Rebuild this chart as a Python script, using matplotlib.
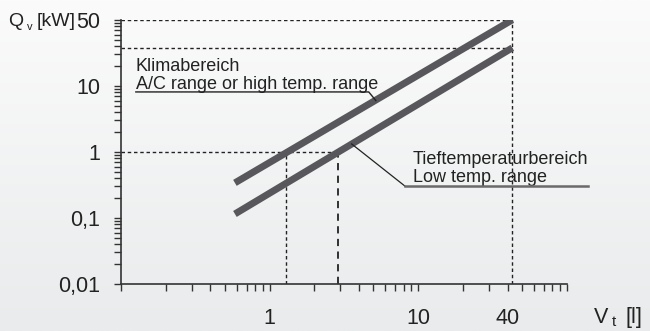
import numpy as np
import matplotlib.pyplot as plt
from matplotlib.ticker import LogLocator, NullFormatter, FixedLocator, FixedFormatter

plt.rcParams['font.family'] = ['Liberation Sans', 'DejaVu Sans']

# values (the top tick is printed "50" but sits at the 100 position)
x_ends = [0.585, 43]
y_high = [0.34, 100]    # A/C range or high temp. range
y_low = [0.115, 37.7]   # low temp. range

y_ticks = [0.01, 0.1, 1, 10, 100]
y_labels = ['0,01', '0,1', '1', '10', '50']
x_ticks = [1, 10, 40]
x_labels = ['1', '10', '40']

x_cross_high = 1.3   # where the upper band hits 1 kW
x_cross_low = 2.9    # where the lower band hits 1 kW

band_col = '#58585c'
ink = '#222222'

fig = plt.figure(figsize=(6.5, 3.31), dpi=100)

# soft background gradient
bg = fig.add_axes([0, 0, 1, 1], zorder=-10)
grad = np.linspace(0, 1, 256).reshape(-1, 1)
bg.imshow(grad, aspect='auto', cmap=plt.matplotlib.colors.LinearSegmentedColormap.from_list(
    'g', ['#fbfbfb', '#e9ebec']), extent=[0, 1, 0, 1])
bg.axis('off')

ax = fig.add_axes([0.186, 0.142, 0.686, 0.798])
ax.patch.set_alpha(0)
ax.set_xscale('log')
ax.set_yscale('log')
ax.set_xlim(0.1, 100)
ax.set_ylim(0.01, 100)

ax.plot(x_ends, y_high, color=band_col, lw=5, solid_capstyle='butt', zorder=3)
ax.plot(x_ends, y_low, color=band_col, lw=5, solid_capstyle='butt', zorder=3)

# dashed guides
dash = dict(color=ink, lw=1.0, ls=(0, (2.5, 2)), zorder=2)
ax.plot([0.1, x_ends[1]], [y_high[1]] * 2, **dash)
ax.plot([0.1, x_ends[1]], [y_low[1]] * 2, **dash)
ax.plot([0.1, x_cross_low], [1, 1], **dash)
ax.plot([x_cross_high] * 2, [0.01, 1], **dash)
ax.plot([x_cross_low] * 2, [0.01, 1], color=ink, lw=1.3, ls=(0, (4, 3)), zorder=2)
ax.plot([x_ends[1]] * 2, [0.01, y_high[1]], **dash)

# labels of the two ranges
ax.text(0.126, 19.4, 'Klimabereich', fontsize=13, color=ink, va='center')
ax.text(0.126, 10.4, 'A/C range or high temp. range', fontsize=13, color=ink, va='center')
ax.plot([0.126, 4.65, 5.19], [8.1, 8.1, 6.0], color=ink, lw=1.0, clip_on=False, zorder=4)

ax.text(9.2, 0.757, 'Tieftemperaturbereich', fontsize=13, color=ink, va='center')
ax.text(9.2, 0.404, 'Low temp. range', fontsize=13, color=ink, va='center')
ax.plot([3.57, 8.13], [1.32, 0.305], color=ink, lw=0.9, clip_on=False, zorder=4)
ax.plot([8.13, 138], [0.305, 0.305], color='#6a6a6a', lw=1.8, clip_on=False, zorder=4)

# axes styling
for s in ['top', 'right']:
    ax.spines[s].set_visible(False)
for s in ['left', 'bottom']:
    ax.spines[s].set_color('#333333')
    ax.spines[s].set_linewidth(1.2)

ax.yaxis.set_major_locator(FixedLocator(y_ticks))
ax.yaxis.set_major_formatter(FixedFormatter(y_labels))
ax.yaxis.set_minor_locator(LogLocator(base=10, subs=np.arange(2, 10)))
ax.yaxis.set_minor_formatter(NullFormatter())

ax.xaxis.set_major_locator(FixedLocator(x_ticks))
ax.xaxis.set_major_formatter(FixedFormatter(x_labels))
ax.xaxis.set_minor_locator(LogLocator(base=10, subs=np.arange(1, 10)))
ax.xaxis.set_minor_formatter(NullFormatter())

ax.tick_params(axis='both', which='both', direction='out', color='#333333', width=1.0,
               length=5, labelsize=15.5, labelcolor=ink)
ax.tick_params(axis='y', which='both', pad=10)
ax.tick_params(axis='x', which='both', pad=12)

# axis titles
fig.text(0.012, 0.936, 'Q', fontsize=14, color=ink, va='center')
fig.text(0.042, 0.918, 'v', fontsize=8, color=ink, va='center')
fig.text(0.056, 0.936, '[kW]', fontsize=14, color=ink, va='center')

fig.text(0.914, 0.040, 'V', fontsize=15.5, color=ink, va='center')
fig.text(0.941, 0.028, 't', fontsize=11, color=ink, va='center')
fig.text(0.963, 0.040, '[l]', fontsize=15.5, color=ink, va='center')

fig.savefig('out.png', dpi=100)
